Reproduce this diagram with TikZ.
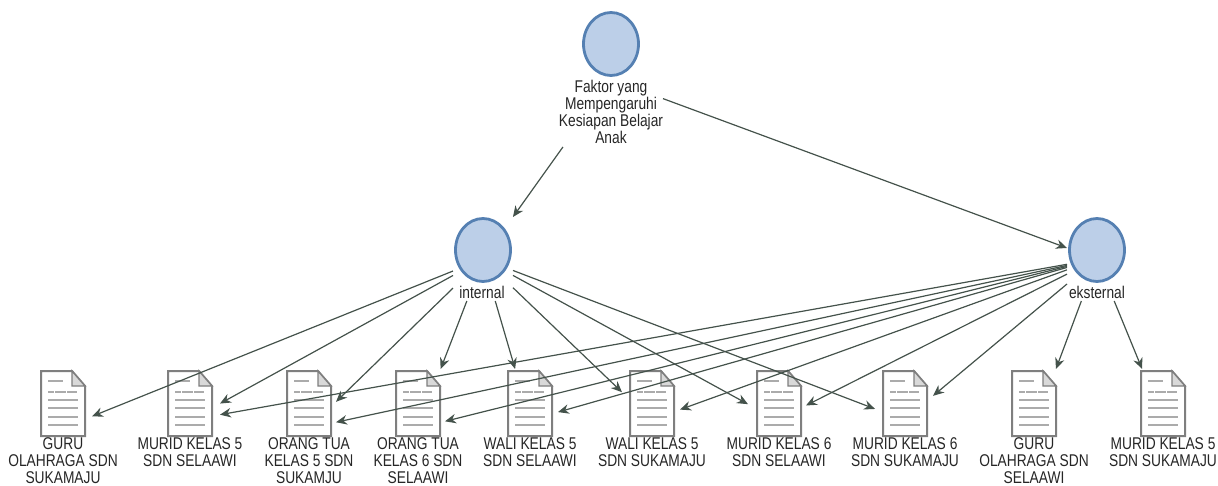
\documentclass[tikz,border=0pt]{standalone}
\usepackage{fontspec}
\setmainfont[FakeStretch=0.81]{Liberation Sans}
\usetikzlibrary{shapes.geometric,arrows.meta}
\definecolor{ringblue}{HTML}{5580B2}
\definecolor{ringfill}{HTML}{BCCFE8}
\definecolor{docgrey}{HTML}{7F7F7F}
\definecolor{docline}{HTML}{ABABAB}
\definecolor{linkcol}{HTML}{44524B}
\definecolor{txtcol}{HTML}{262626}
\tikzset{
  hitbox/.style={rectangle,inner sep=0pt,outer sep=0pt,minimum width=#1},
  bubble/.style={ellipse,draw=ringblue,fill=ringfill,line width=2.8pt,inner sep=0pt,minimum width=55pt,minimum height=63pt},
  lbl/.style={anchor=north,align=center,inner sep=0pt,text=txtcol,font=\fontsize{17}{17}\selectfont},
  conn/.style={draw=linkcol,line width=1.2pt,-{Stealth[length=11pt,width=9.5pt]}},
  docicon/.pic={
    \draw[docgrey,line width=2pt,fill=white,line join=miter] (0,0) -- (31,0) -- (44,15) -- (44,65) -- (0,65) -- cycle;
    \draw[docgrey,line width=1.4pt,fill=docline!45] (31,0) -- (31,15) -- (44,15) -- cycle;
    \draw[docline,line width=1.3pt] (7,10) -- (22,10);
    \draw[docline,line width=1.3pt,dash pattern=on 6pt off 1.2pt on 11pt off 1.2pt on 10pt off 1pt] (7,21) -- (37,21);
    \draw[docline,line width=1.3pt] (7,29) -- (37,29) (7,37) -- (37,37) (7,46) -- (37,46) (7,54) -- (37,54);
  }
}
\newcommand{\docitem}[7]{% name, cx, cy, w, h, icon left, label
  \pic at (#6,371) {docicon};
  \node[hitbox=#4,minimum height=#5] (#1) at (#2,#3) {};
  \node[lbl] (#1-l) at (#6+22,437) {#7};
}
\begin{document}
\begin{tikzpicture}[x=1pt,y=-1pt]
\useasboundingbox (0,0) rectangle (1218,486);
% hub nodes: hit boxes cover bubble and label
\node[hitbox=104,minimum height=135] (top) at (611,79.5) {};
\node[hitbox=60,minimum height=84] (int) at (483,259) {};
\node[hitbox=60,minimum height=84] (ext) at (1097,259) {};
\node[bubble] (top-c) at (611,44) {};
\node[bubble] (int-c) at (483,250) {};
\node[bubble] (ext-c) at (1097,250) {};
\node[lbl] (top-l) at (611,80) {Faktor yang\\Mempengaruhi\\Kesiapan Belajar\\Anak};
\node[lbl] (int-l) at (482,286) {internal};
\node[lbl] (ext-l) at (1097,286) {eksternal};
\docitem{d1}{63}{428}{58}{118}{41}{GURU\\OLAHRAGA SDN\\SUKAMAJU}
\docitem{d2}{190}{420}{60}{102}{168}{MURID KELAS 5\\SDN SELAAWI}
\docitem{d3}{309}{428}{54}{118}{287}{ORANG TUA\\KELAS 5 SDN\\SUKAMJU}
\docitem{d4}{418}{428}{54}{118}{396}{ORANG TUA\\KELAS 6 SDN\\SELAAWI}
\docitem{d5}{530}{420}{56}{102}{508}{WALI KELAS 5\\SDN SELAAWI}
\docitem{d6}{651}{420}{58}{102}{630}{WALI KELAS 5\\SDN SUKAMAJU}
\docitem{d7}{777}{420}{58}{102}{757}{MURID KELAS 6\\SDN SELAAWI}
\docitem{d8}{904}{420}{58}{102}{883}{MURID KELAS 6\\SDN SUKAMAJU}
\docitem{d9}{1034}{428}{58}{118}{1012}{GURU\\OLAHRAGA SDN\\SELAAWI}
\docitem{d10}{1163}{420}{58}{102}{1141}{MURID KELAS 5\\SDN SUKAMAJU}
\draw[conn] (top) -- (int);
\draw[conn] (top) -- (ext);
\foreach \t in {d1,d2,d3,d4,d5,d6,d7,d8} \draw[conn] (int) -- (\t);
\foreach \t in {d2,d3,d4,d5,d6,d7,d8,d9,d10} \draw[conn] (ext) -- (\t);
\end{tikzpicture}
\end{document}
